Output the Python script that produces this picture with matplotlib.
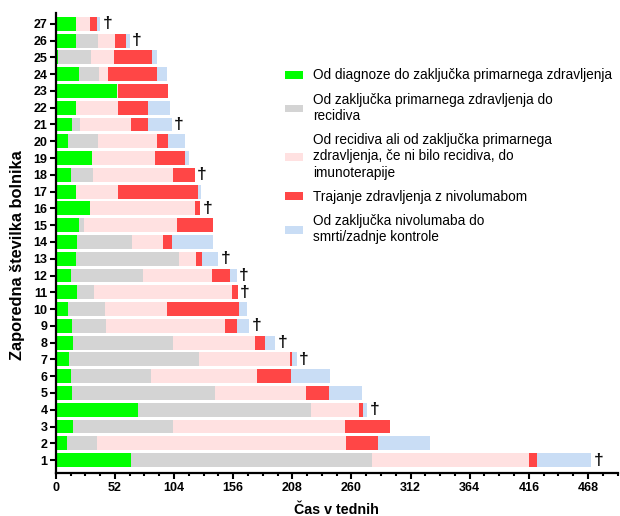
# Potek zdravljenja po bolnikih (tedni) - vodoravni naloženi stolpci
import matplotlib.pyplot as plt
from matplotlib.patches import Patch
from matplotlib.ticker import MultipleLocator
import numpy as np

plt.rcParams['font.family'] = ['Liberation Sans', 'DejaVu Sans']

# zaporedna številka bolnika
bolniki = list(range(1, 28))

# trajanje posameznih obdobij v tednih (bolnik 1 .. 27)
primarno = [66, 10, 15, 72, 14, 13, 12, 15, 14, 11, 19, 13, 18, 19, 20, 30, 18, 13, 32, 11, 14, 18, 54, 20, 2, 18, 18]
do_recidiva = [212, 26, 88, 152, 126, 71, 114, 88, 30, 32, 15, 64, 90, 48, 5, 0, 0, 20, 0, 26, 7, 0, 0, 18, 29, 19, 0]
do_imuno = [138, 219, 151, 43, 80, 93, 80, 72, 105, 55, 121, 60, 15, 27, 82, 92, 37, 70, 55, 52, 45, 37, 1, 8, 20, 15, 12]
nivolumab = [7, 28, 40, 3, 20, 30, 2, 9, 10, 63, 5, 16, 6, 8, 31, 5, 70, 19, 27, 10, 15, 26, 44, 43, 34, 10, 6]
po_nivolumabu = [48, 46, 0, 4, 29, 34, 4, 9, 11, 7, 0, 6, 14, 36, 0, 0, 3, 0, 3, 15, 21, 19, 0, 9, 4, 3, 3]
# umrli bolniki (križ)
umrli = [1, 4, 7, 8, 9, 11, 12, 13, 16, 18, 21, 26, 27]

oznake = ["Od diagnoze do zaključka primarnega zdravljenja",
          "Od zaključka primarnega zdravljenja do\nrecidiva",
          "Od recidiva ali od zaključka primarnega\nzdravljenja, če ni bilo recidiva, do\nimunoterapije",
          "Trajanje zdravljenja z nivolumabom",
          "Od zaključka nivolumaba do\nsmrti/zadnje kontrole"]
barve = ["#00FF00", "#D4D4D4", "#FFE1E1", "#FF4646", "#C9DDF5"]

fig = plt.figure(figsize=(6.2, 5.16), dpi=100)
ax = fig.add_axes([0.090, 0.083, 0.906, 0.892])

levo = np.zeros(len(bolniki))
for podatki, barva in zip([primarno, do_recidiva, do_imuno, nivolumab, po_nivolumabu], barve):
    ax.barh(bolniki, podatki, left=levo, height=0.83, color=barva, linewidth=0)
    levo = levo + np.array(podatki)

# križi za umrle
for b in umrli:
    ax.annotate("†", xy=(levo[b - 1], b), xytext=(5.2, 0), textcoords="offset points",
                ha="center", va="center", fontsize=12.5, fontweight="bold", color="#111111")

ax.set_xlim(0, 494)
ax.set_ylim(0.22, 27.65)
ax.xaxis.set_major_locator(MultipleLocator(52))
ax.xaxis.set_minor_locator(MultipleLocator(13))
ax.set_yticks(bolniki)

for s in ["top", "right"]:
    ax.spines[s].set_visible(False)
for s in ["left", "bottom"]:
    ax.spines[s].set_linewidth(1.6)

ax.tick_params(axis="both", which="major", length=4, width=1.5, labelsize=9, pad=2)
ax.tick_params(axis="x", which="minor", length=2.5, width=1.5)
for t in ax.get_xticklabels() + ax.get_yticklabels():
    t.set_fontweight("bold")

ax.set_xlabel("Čas v tednih", fontsize=10.3, fontweight="bold", labelpad=7)
ax.set_ylabel("Zaporedna številka bolnika", fontsize=11.8, fontweight="bold")
ax.yaxis.set_label_coords(-0.054, 0.474)

rocaji = [Patch(facecolor=c, edgecolor="none") for c in barve]
fig.legend(rocaji, oznake, loc="upper left", bbox_to_anchor=(0.440, 0.891),
           frameon=False, fontsize=9.8, handlelength=1.32, handleheight=0.5,
           handletextpad=0.73, labelspacing=0.75)

plt.savefig("out.png", dpi=100)
